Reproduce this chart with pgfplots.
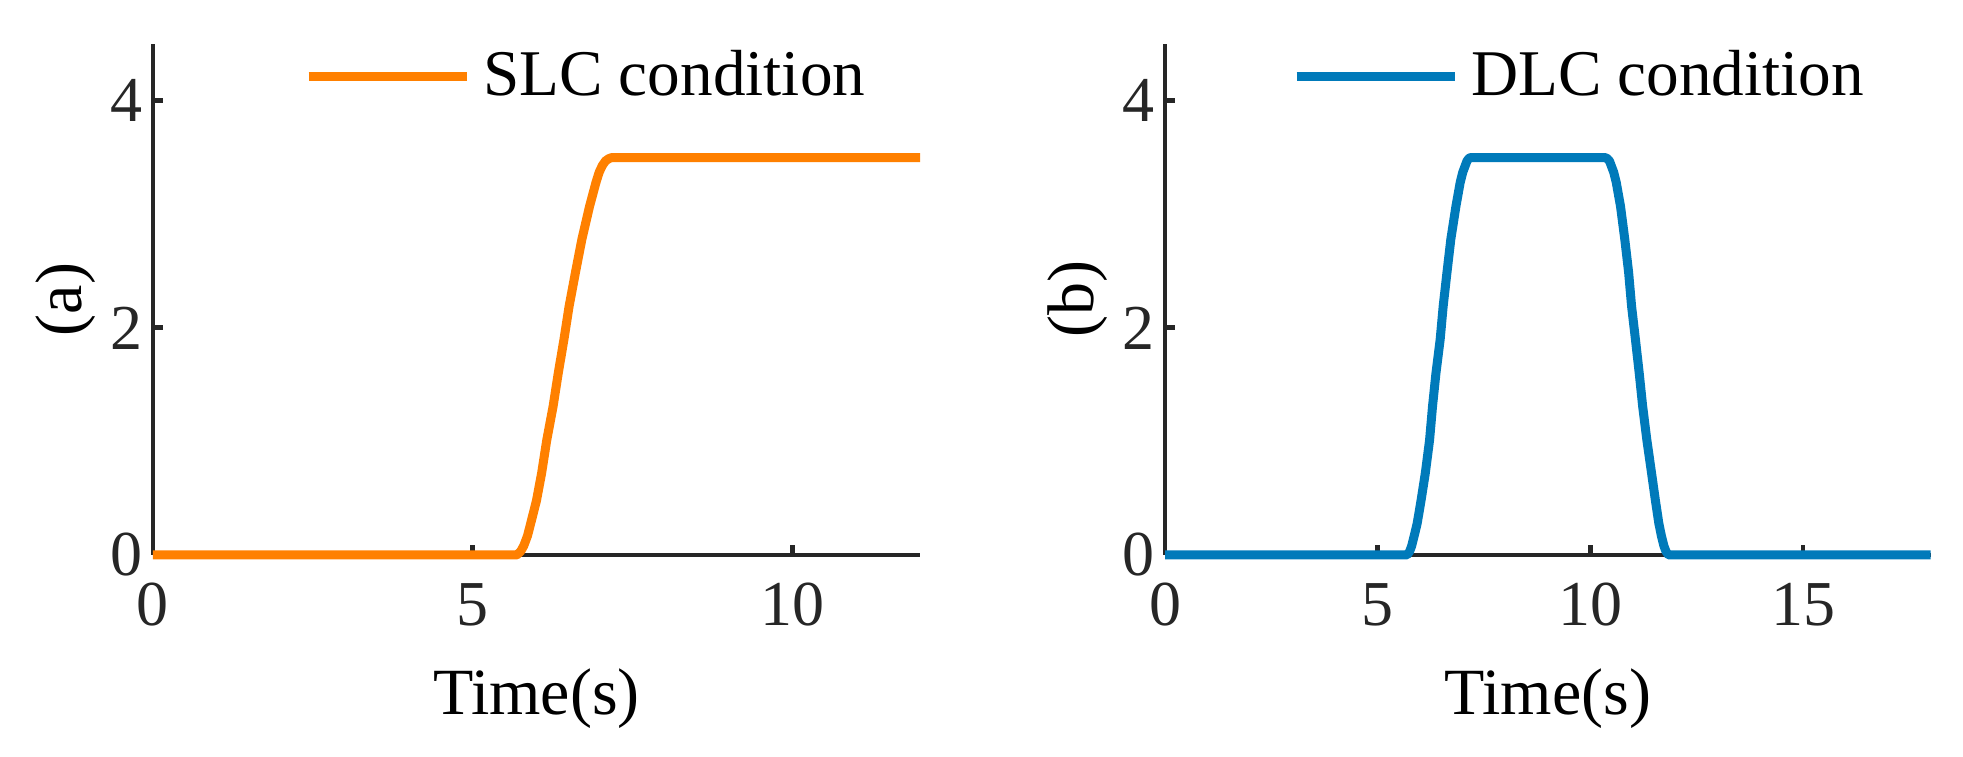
\documentclass[border=0pt]{standalone}
\usepackage{pgfplots}
\pgfplotsset{compat=1.18}
\usepackage{fontspec}
\setmainfont{Liberation Serif}
\newfontfamily\tickfont{Liberation Serif}
\definecolor{axgray}{RGB}{38,38,38}
\definecolor{slc}{RGB}{255,128,0}
\definecolor{dlc}{RGB}{0,122,186}

\pgfplotsset{
  myax/.style={
    scale only axis, height=127.75pt, ymin=0, ymax=4.5, ytick={0,2,4},
    axis x line*=bottom, axis y line*=left,
    axis line style={axgray, line width=1.2pt, -},
    tick style={axgray, line width=1.2pt},
    major tick length=2.5pt, tick align=inside,
    tick label style={font=\tickfont\fontsize{16}{19}\selectfont, text=axgray},
    /pgf/number format/assume math mode=true,
    xticklabel={\tickfont\pgfmathprintnumber{\tick}},
    yticklabel={\tickfont\pgfmathprintnumber{\tick}},
    xticklabel style={yshift=-3.5pt},
    yticklabel style={xshift=1pt},
    every axis x label/.style={at={(rel axis cs:0.5,0)}, anchor=base, yshift=-40pt, font=\fontsize{16.5}{19}\selectfont},
    every axis y label/.style={at={([xshift=-21.75pt]rel axis cs:0,0.5)}, anchor=center, rotate=90, font=\fontsize{16.5}{19}\selectfont},
    clip=false,
    legend image code/.code={\draw[##1,line width=2.25pt] (0pt,0pt) -- (39.5pt,0pt);},
    legend style={draw=none, fill=none, inner sep=0pt, outer sep=0pt, anchor=west,
      font=\fontsize{16.3}{19}\selectfont, column sep=3pt, nodes={inner sep=0pt}},
  }
}

\begin{document}
\begin{tikzpicture}
\begin{axis}[myax, width=191.75pt, xmin=0, xmax=12, xtick={0,5,10},
  xlabel={Time(s)}, ylabel={(a)},
  legend style={at={(rel axis cs:0.197,0.937)}}]
\addplot[slc, line width=2.25pt, line join=round] coordinates {
(0,0) (5.69,0) (5.75,0.03) (5.80,0.08) (5.86,0.17) (5.91,0.28) (6.00,0.48)
(6.08,0.72) (6.16,1.01) (6.26,1.31)
(6.34,1.60) (6.43,1.90) (6.51,2.19) (6.61,2.49) (6.71,2.78) (6.83,3.07)
(6.93,3.28) (6.98,3.37) (7.03,3.43) (7.08,3.47) (7.13,3.49) (7.18,3.5) (12,3.5)};
\addlegendentry{SLC condition}
\end{axis}
\begin{axis}[myax, at={(253pt,0pt)}, width=191.4pt, xmin=0, xmax=18, xtick={0,5,10,15},
  xlabel={Time(s)}, ylabel={(b)},
  legend style={at={(rel axis cs:0.166,0.937)}}]
\addplot[dlc, line width=2.25pt, line join=round] coordinates {
(0,0) (5.69,0) (5.75,0.03) (5.80,0.08) (5.86,0.17) (5.93,0.28) (6.02,0.48)
(6.12,0.72) (6.22,1.01) (6.29,1.31)
(6.37,1.60) (6.47,1.90) (6.54,2.19) (6.63,2.49) (6.72,2.78) (6.84,3.07)
(6.94,3.28) (7.00,3.37) (7.06,3.43) (7.10,3.47) (7.14,3.49) (7.18,3.5)
(10.35,3.5) (10.40,3.49) (10.45,3.47) (10.49,3.43) (10.55,3.37)
(10.61,3.28) (10.71,3.07) (10.81,2.78) (10.90,2.49) (10.97,2.19)
(11.06,1.90) (11.15,1.60) (11.23,1.31) (11.33,1.01) (11.44,0.72) (11.53,0.48)
(11.61,0.28) (11.67,0.17) (11.73,0.08) (11.78,0.03) (11.84,0) (18,0)};
\addlegendentry{DLC condition}
\end{axis}
\pgfresetboundingbox
\path (-38.25pt,-50.5pt) rectangle (452.5pt,138.75pt);
\end{tikzpicture}
\end{document}
